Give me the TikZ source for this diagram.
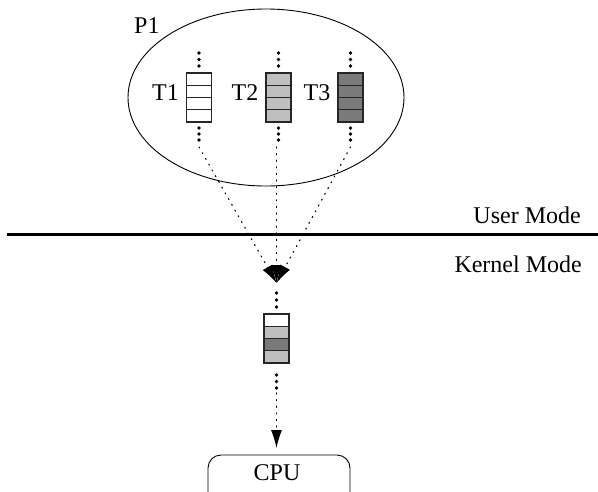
\documentclass[tikz,border=0pt]{standalone}
\usepackage{fontspec}
\setmainfont{Liberation Serif}
\usetikzlibrary{arrows.meta}
\begin{document}
\begin{tikzpicture}[x=1pt,y=-1pt,
  lbl/.style={inner sep=0pt,font=\fontsize{24}{28}\selectfont},
  cell/.style={draw=black!85,line width=1.2pt},
  dotline/.style={line width=1.1pt,dash pattern=on 1.1pt off 5.5pt,line cap=round},
  tip/.style={-{Latex[length=18pt,width=11pt]}},
  dotc/.style={fill=black,draw=none}
]
\useasboundingbox (0,0) rectangle (598,491);
% process ellipse
\draw[line width=0.9pt] (266,97.5) ellipse [x radius=138, y radius=88.5];
\node[lbl,anchor=base west] (p1) at (134,33) {P1};
% queues
\foreach \n/\cx/\col in {1/199/white,2/278.5/black!25,3/350.5/black!52}{
  \foreach \k in {0,1,2,3}{
    \filldraw[cell,fill=\col] (\cx-12.5,73+\k*12.25) rectangle (\cx+12.5,73+\k*12.25+12.25);
  }
  \foreach \y in {53,59.5,66}{\fill (\cx,\y) circle (1.8);}
  \foreach \y in {128,134,140}{\fill (\cx,\y) circle (1.8);}
  \coordinate (s\n) at (\cx,147);
  \node[lbl,anchor=base east] (t\n) at (\cx-20,100) {T\n};
}
% mode line
\draw[line width=3.5pt] (7,234.5) -- (598,234.5);
\node[lbl,anchor=base east] (um) at (581,223) {User Mode};
\node[lbl,anchor=base east] (km) at (582,272) {Kernel Mode};
% convergence point
\coordinate (m) at (276.5,283);
\draw[dotline,tip] (s1) -- (m);
\draw[dotline,tip] (276.5,147) -- (m);
\draw[dotline,tip] (s3) -- (m);
% kernel queue
\foreach \y in {293,300,307}{\fill (276.5,\y) circle (1.8);}
\foreach \k/\col in {0/white,1/black!25,2/black!52,3/black!25}{
  \filldraw[cell,fill=\col] (264,314+\k*12.25) rectangle (289,314+\k*12.25+12.25);
}
\foreach \y in {375,381.5,388}{\fill (276.5,\y) circle (1.8);}
% CPU
\draw[line width=0.9pt,rounded corners=13pt] (208,495) -- (208,455) -- (350,455) -- (350,495);
\node[lbl] (cpu) at (277,473) {CPU};
\coordinate (k) at (276.5,393);
\draw[dotline,tip] (k) -- (276.5,448);
\end{tikzpicture}
\end{document}
